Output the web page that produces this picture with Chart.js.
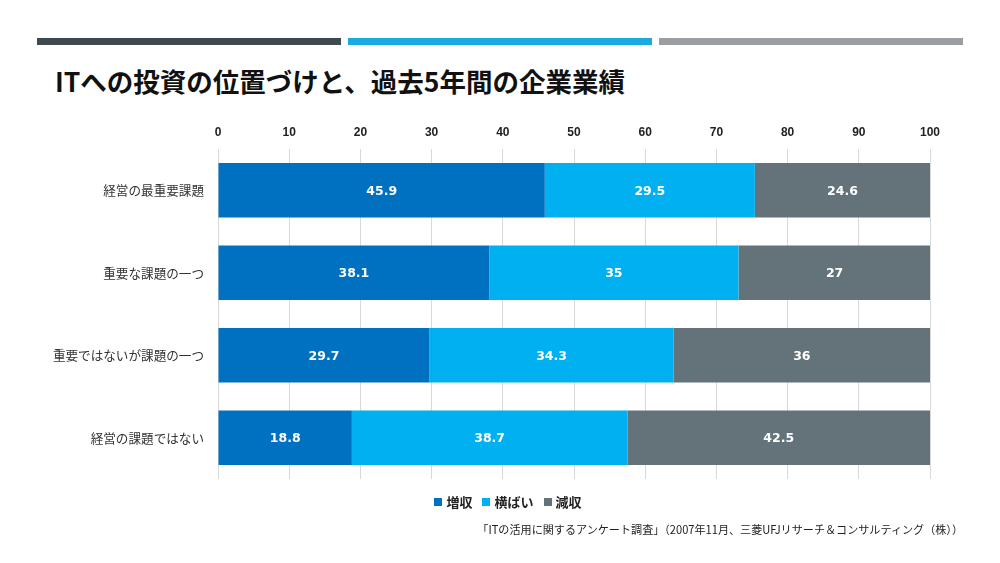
<!DOCTYPE html>
<html><head><meta charset="utf-8">
<script src="https://cdn.jsdelivr.net/npm/chart.js@4/dist/chart.umd.min.js"></script>
<style>
html,body{margin:0;padding:0;background:#fff;width:1000px;height:563px;overflow:hidden;font-family:"Noto Sans CJK JP","Noto Sans",sans-serif;}
.stripe{position:absolute;top:38px;height:7px;}
#title{position:absolute;left:55px;top:61px;font-size:26.5px;font-weight:bold;color:#111;white-space:nowrap;letter-spacing:0px;}
#wrap{position:absolute;left:0;top:0;width:1000px;height:563px;}
#legend{position:absolute;top:492px;left:8px;width:1000px;text-align:center;font-size:13px;font-weight:bold;color:#222;white-space:nowrap;}
#legend span.box{display:inline-block;width:8px;height:8px;margin-right:4px;vertical-align:1px;}
#legend span.item{margin:0 5px;}
#source{position:absolute;top:521px;right:37px;font-size:11.1px;color:#222;white-space:nowrap;}
</style></head>
<body>
<div class="stripe" style="left:37px;width:304px;background:#3F4A50"></div>
<div class="stripe" style="left:348px;width:304px;background:#1BA9E1"></div>
<div class="stripe" style="left:659px;width:304px;background:#9A9EA3"></div>
<div id="title">ITへの投資の位置づけと、過去5年間の企業業績</div>
<div id="wrap"><canvas id="c" width="1000" height="563"></canvas></div>
<div id="legend"></div>
<div id="source">「ITの活用に関するアンケート調査」（2007年11月、三菱UFJリサーチ＆コンサルティング（株））</div>
<script>
const categories = ["経営の最重要課題","重要な課題の一つ","重要ではないが課題の一つ","経営の課題ではない"];
const seriesNames = ["増収","横ばい","減収"];
const increase = [45.9, 38.1, 29.7, 18.8];
const flat = [29.5, 35, 34.3, 38.7];
const decrease = [24.6, 27, 36, 42.5];
const colors = ["#0070C0","#00B0F0","#647379"];

const labelPlugin = {
  id:'barLabels',
  afterDatasetsDraw(chart){
    const ctx = chart.ctx;
    ctx.save();
    ctx.font = 'bold 12.5px "DejaVu Sans", sans-serif';
    ctx.fillStyle = '#fff';
    ctx.textAlign = 'center';
    ctx.textBaseline = 'middle';
    chart.data.datasets.forEach((ds, i) => {
      const meta = chart.getDatasetMeta(i);
      meta.data.forEach((bar, j) => {
        const p = bar.getProps(['x','y','base'], true);
        ctx.fillText(String(ds.data[j]), (p.x + p.base) / 2, p.y + 1);
      });
    });
    ctx.restore();
  }
};

const data = {
  labels: categories,
  datasets: [increase, flat, decrease].map((d, i) => ({
    label: seriesNames[i], data: d, backgroundColor: colors[i],
    categoryPercentage: 1, barPercentage: 0.66, borderWidth: 0
  }))
};

new Chart(document.getElementById('c'), {
  type:'bar',
  data,
  options:{
    indexAxis:'y',
    responsive:false,
    animation:false,
    layout:{padding:{left:0,top:115,right:70,bottom:84}},
    plugins:{legend:{display:false},tooltip:{enabled:false}},
    scales:{
      x:{
        position:'top', stacked:true, min:0, max:100,
        ticks:{stepSize:10, color:'#222', font:{family:'"Liberation Sans", sans-serif', size:12, weight:'bold'}, padding:9},
        grid:{color:'#D9D9D9', drawTicks:false},
        border:{display:false},
        afterFit(s){ s.height = 34; }
      },
      y:{
        stacked:true,
        ticks:{color:'#333', font:{family:'"Noto Sans CJK JP", sans-serif', size:12.6}, padding:6},
        grid:{display:false},
        border:{display:false},
        afterFit(s){ s.width = 218; }
      }
    }
  },
  plugins:[labelPlugin]
});

const lg = document.getElementById('legend');
seriesNames.forEach((n,i)=>{
  const s = document.createElement('span'); s.className='item';
  s.innerHTML = '<span class="box" style="background:'+colors[i]+'"></span>'+n;
  lg.appendChild(s);
});
</script>
</body></html>
